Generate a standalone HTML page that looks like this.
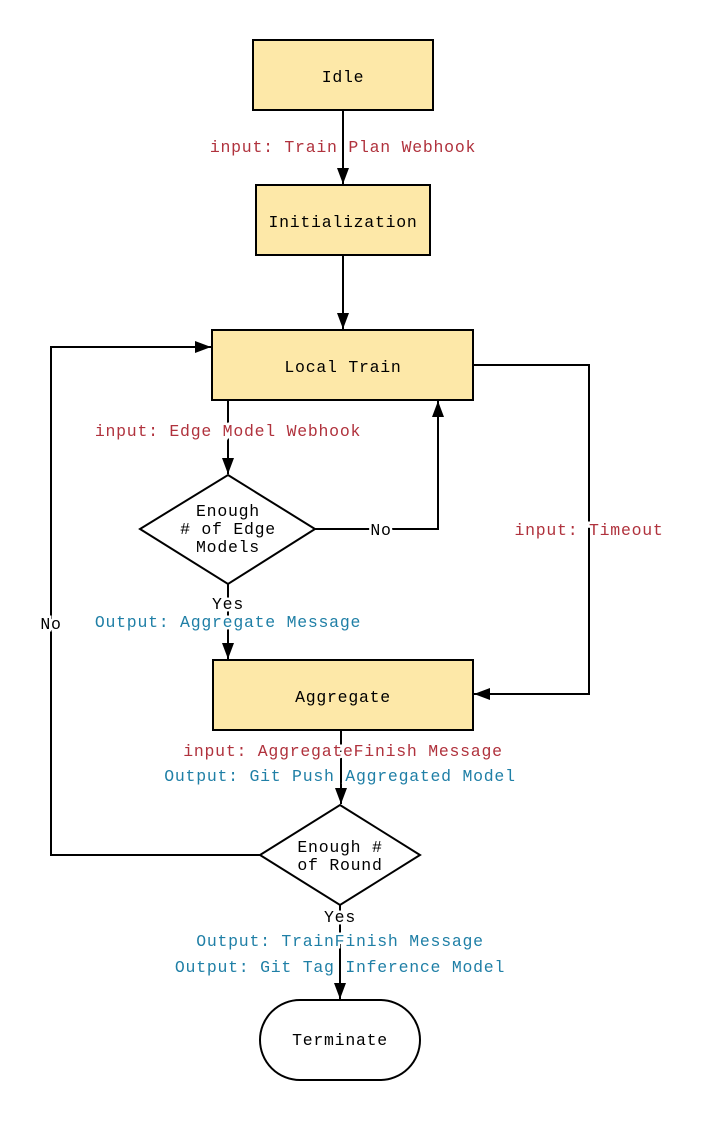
<!DOCTYPE html>
<html><head><meta charset="utf-8"><style>
html,body{margin:0;padding:0;background:#fff;}
text{font-family:"Liberation Mono",monospace;font-size:16.5px;letter-spacing:0.75px;}
.r{fill:#b0323d;}
.b{fill:#1f7fa6;}
.k{fill:#000;}
.bg{stroke:#fff;stroke-width:5px;paint-order:stroke;}
</style></head><body>
<svg width="703" height="1120" viewBox="0 0 703 1120" xmlns="http://www.w3.org/2000/svg">
<defs><marker id="a" markerWidth="16" markerHeight="12" refX="16" refY="6" orient="auto" markerUnits="userSpaceOnUse"><path d="M0,0 L16,6 L0,12 Z" fill="#000"/></marker></defs>
<g fill="none" stroke="#000" stroke-width="2">
<line x1="343" y1="110" x2="343" y2="184" marker-end="url(#a)"/>
<line x1="343" y1="255" x2="343" y2="329" marker-end="url(#a)"/>
<line x1="228" y1="400" x2="228" y2="474" marker-end="url(#a)"/>
<polyline points="315,529 438,529 438,401" marker-end="url(#a)"/>
<line x1="228" y1="584" x2="228" y2="659" marker-end="url(#a)"/>
<polyline points="473,365 589,365 589,694 474,694" marker-end="url(#a)"/>
<line x1="341" y1="730" x2="341" y2="804" marker-end="url(#a)"/>
<polyline points="260,855 51,855 51,347 211,347" marker-end="url(#a)"/>
<line x1="340" y1="905" x2="340" y2="999" marker-end="url(#a)"/>
</g>
<g stroke="#000" stroke-width="2" fill="#fde8a8">
<rect x="253" y="40" width="180" height="70"/>
<rect x="256" y="185" width="174" height="70"/>
<rect x="212" y="330" width="261" height="70"/>
<rect x="213" y="660" width="260" height="70"/>
</g>
<g stroke="#000" stroke-width="2" fill="#fff">
<polygon points="228,475 315,529 228,584 140,529"/>
<polygon points="340,805 420,855 340,905 260,855"/>
<rect x="260" y="1000" width="160" height="80" rx="40"/>
</g>
<g text-anchor="middle">
<text class="k" x="343" y="82">Idle</text>
<text class="k" x="343" y="227">Initialization</text>
<text class="k" x="343" y="372">Local Train</text>
<text class="k" x="343" y="702">Aggregate</text>
<text class="k" x="228" y="516">Enough</text>
<text class="k" x="228" y="534"># of Edge</text>
<text class="k" x="228" y="552">Models</text>
<text class="k" x="340" y="852">Enough #</text>
<text class="k" x="340" y="870">of Round</text>
<text class="k" x="340" y="1045">Terminate</text>
<text class="k bg" x="381" y="535">No</text>
<text class="k bg" x="51" y="629">No</text>
<text class="k bg" x="228" y="609">Yes</text>
<text class="k bg" x="340" y="922">Yes</text>
<text class="r bg" x="343" y="152">input: Train Plan Webhook</text>
<text class="r bg" x="228" y="436">input: Edge Model Webhook</text>
<text class="r bg" x="589" y="535">input: Timeout</text>
<text class="b bg" x="228" y="627">Output: Aggregate Message</text>
<text class="r bg" x="343" y="756">input: AggregateFinish Message</text>
<text class="b bg" x="340" y="781">Output: Git Push Aggregated Model</text>
<text class="b bg" x="340" y="946">Output: TrainFinish Message</text>
<text class="b bg" x="340" y="972">Output: Git Tag Inference Model</text>
</g>
</svg>
</body></html>
